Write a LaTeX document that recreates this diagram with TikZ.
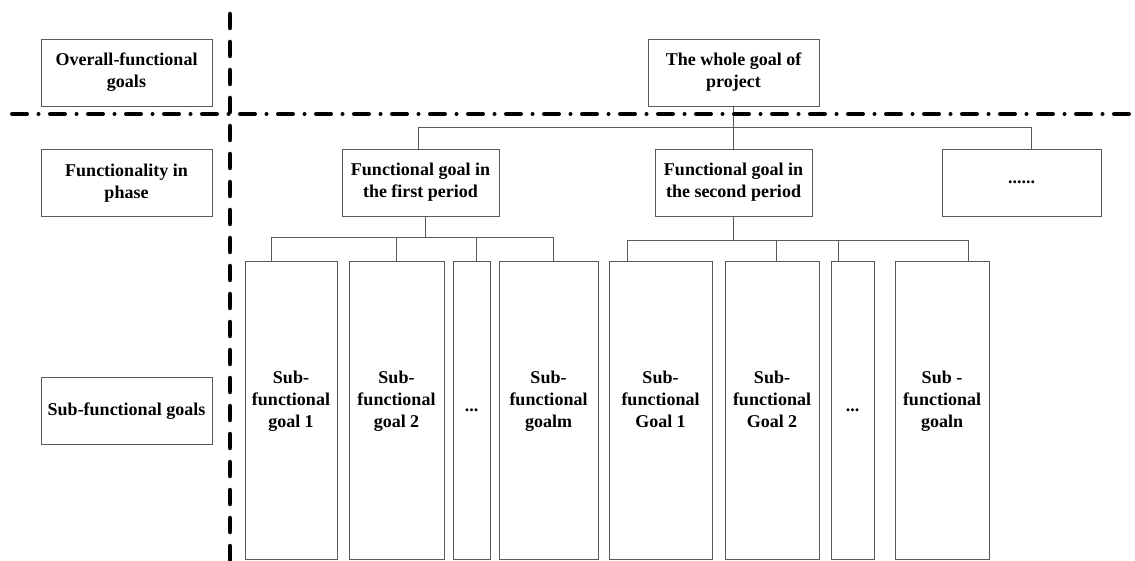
\documentclass[tikz,border=0pt]{standalone}
\usepackage{fontspec}
\setmainfont{Liberation Serif}
\usetikzlibrary{positioning}
\definecolor{cLine}{HTML}{5A5A5A}
\newcommand{\subtxt}[1]{\raisebox{4.6pt}[0pt][0pt]{\begin{tabular}{@{}c@{}}#1\end{tabular}}}
\begin{document}
\begin{tikzpicture}[
  x=1pt, y=-1pt,
  font=\fontsize{18pt}{22pt}\selectfont\bfseries,
  box/.style={draw=cLine, line width=0.8pt, inner sep=0pt, outer sep=0pt, align=center},
  lbl/.style={box, minimum width=171pt, minimum height=67pt},
  phase/.style={box, minimum width=157pt, minimum height=67pt},
  sub/.style={box, minimum height=298pt},
  conn/.style={draw=cLine, line width=0.8pt},
  vsep/.style={line width=4.5pt, line cap=round, dash pattern=on 14pt off 14pt},
  hsep/.style={line width=4pt, line cap=round, dash pattern=on 15pt off 11.5pt on 0pt off 11.5pt}
]
\path[use as bounding box, fill=white] (0,0) rectangle (1135,561);
% row labels
\node[lbl] (l1) at (126.5,72.5) {Overall-functional\\goals};
\node[lbl] (l2) at (126.5,183) {Functionality in\\phase};
\node[lbl] (l3) at (126.5,411) {Sub-functional goals};
% goals
\node[lbl] (whole) at (733.5,72.5) {The whole goal of\\project};
\node[phase] (p1) at (420.5,182.5) {Functional goal in\\the first period};
\node[phase] (p2) at (733.5,182.5) {Functional goal in\\the second period};
\node[phase, minimum width=159pt] (p3) at (1021.5,182.5) {......};
% sub goals
\node[sub, minimum width=92pt] (s11) at (291,410) {\subtxt{Sub-\\functional\\goal 1}};
\node[sub, minimum width=95pt, right=12pt of s11] (s12) {\subtxt{Sub-\\functional\\goal 2}};
\node[sub, minimum width=37pt, right=9pt of s12] (s13) {...};
\node[sub, minimum width=99pt, right=9pt of s13] (s14) {\subtxt{Sub-\\functional\\goalm}};
\node[sub, minimum width=103pt, right=11pt of s14] (s21) {\subtxt{Sub-\\functional\\Goal 1}};
\node[sub, minimum width=94pt, right=13pt of s21] (s22) {\subtxt{Sub-\\functional\\Goal 2}};
\node[sub, minimum width=43pt, right=12pt of s22] (s23) {...};
\node[sub, minimum width=94pt, right=21pt of s23] (s24) {\subtxt{Sub -\\functional\\goaln}};
% tree lines
\draw[conn] (whole.south) -- ++(0,21) coordinate (j0);
\draw[conn] (j0) -| ([xshift=-2pt]p1.north);
\draw[conn] (j0) -- (p2.north);
\draw[conn] (j0) -| ([xshift=10pt]p3.north);
\draw[conn] ([xshift=5pt]p1.south) -- ++(0,21) coordinate (j1);
\foreach \n/\d in {s11/-20, s12/0, s13/5, s14/5}
  \draw[conn] (j1) -| ([xshift=\d pt]\n.north);
\draw[conn] (p2.south) -- ++(0,24) coordinate (j2);
\foreach \n/\d in {s21/-33, s22/4, s23/-14, s24/26}
  \draw[conn] (j2) -| ([xshift=\d pt]\n.north);
% separators
\draw[vsep] (230,14) -- (230,570);
\draw[hsep] (12,114) -- (1140,114);
\end{tikzpicture}
\end{document}
